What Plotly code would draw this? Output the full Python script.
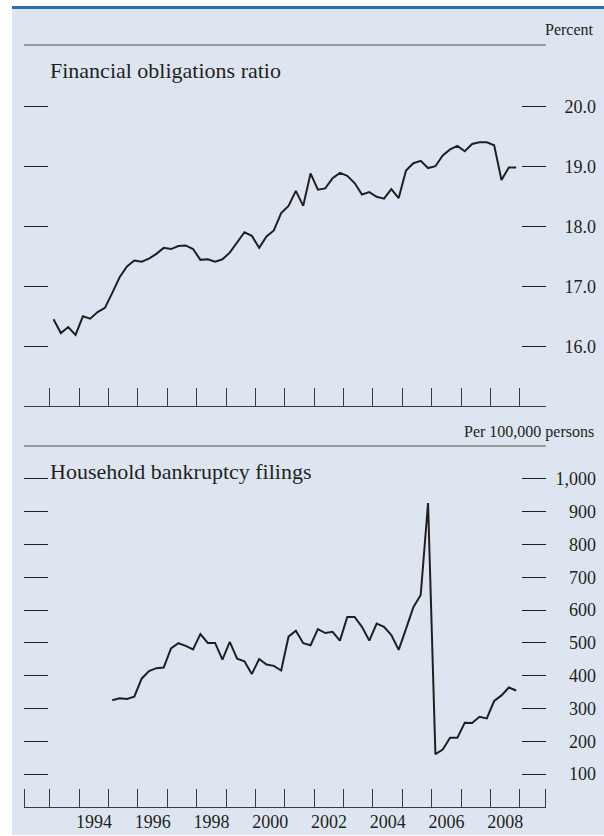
import pandas as pd
import plotly.graph_objects as go

# --- data, quarterly ---
for_quarters = pd.period_range("1993Q1", "2008Q4", freq="Q")
for_ratio = [
    16.45, 16.22, 16.32, 16.19,
    16.50, 16.46, 16.57, 16.64,
    16.89, 17.15, 17.33, 17.43,
    17.41, 17.46, 17.54, 17.64,
    17.62, 17.67, 17.68, 17.62,
    17.44, 17.45, 17.41, 17.45,
    17.56, 17.74, 17.90, 17.84,
    17.64, 17.83, 17.93, 18.22,
    18.34, 18.59, 18.34, 18.88,
    18.61, 18.63, 18.80, 18.89,
    18.84, 18.72, 18.53, 18.57,
    18.49, 18.46, 18.62, 18.47,
    18.93, 19.05, 19.09, 18.97,
    19.00, 19.18, 19.28, 19.34,
    19.25, 19.37, 19.40, 19.40,
    19.35, 18.77, 18.98, 18.98,
]

bk_quarters = pd.period_range("1995Q1", "2008Q4", freq="Q")
bankruptcy = [
    325, 331, 329, 336,
    391, 414, 423, 425,
    483, 499, 491, 480,
    527, 500, 500, 449,
    503, 452, 444, 405,
    451, 434, 430, 416,
    519, 537, 499, 493,
    542, 530, 534, 507,
    579, 579, 549, 507,
    559, 549, 524, 479,
    543, 609, 646, 926,
    161, 175, 211, 211,
    257, 256, 275, 270,
    323, 340, 364, 355,
]

for_ticks = [16, 17, 18, 19, 20]
for_ticktext = ["16.0", "17.0", "18.0", "19.0", "20.0"]
bk_ticks = [100, 200, 300, 400, 500, 600, 700, 800, 900, 1000]
bk_ticktext = ["100", "200", "300", "400", "500", "600", "700", "800", "900", "1,000"]
year_labels = [1994, 1996, 1998, 2000, 2002, 2004, 2006, 2008]


def mid_quarter(periods):
    # plot each quarter at its midpoint in decimal years
    return [p.year + (p.quarter - 0.5) / 4 for p in periods]


W, H = 604, 836
ML = 12
PW = W - ML
BG = "#dde6f0"
INK = "#231f20"
AX = "#3c3c3c"
FONT = "Liberation Serif"

def px_x(px):
    return (px - ML) / PW

def px_y(py):
    return 1 - py / H

XR = [1992.12, 2009.88]
xdom = [px_x(24), px_x(545.7)]
year_edges = [XR[0] + 0.001] + list(range(1993, 2010)) + [XR[1] - 0.001]

fig = go.Figure()
fig.add_trace(go.Scatter(x=mid_quarter(for_quarters), y=for_ratio, mode="lines",
                         line=dict(color=INK, width=2), xaxis="x", yaxis="y",
                         showlegend=False, hoverinfo="skip"))
fig.add_trace(go.Scatter(x=mid_quarter(bk_quarters), y=bankruptcy, mode="lines",
                         line=dict(color=INK, width=2), xaxis="x2", yaxis="y4",
                         showlegend=False, hoverinfo="skip"))
# placeholder traces so the overlaid tick / label axes get drawn
for xa, ya, yr in [("x", "y2", 15.5), ("x", "y3", 15.5), ("x2", "y5", 50), ("x2", "y6", 50)]:
    fig.add_trace(go.Scatter(x=[XR[0]], y=[yr], mode="lines", xaxis=xa, yaxis=ya,
                             showlegend=False, hoverinfo="skip"))

tick_style = dict(ticks="inside", ticklen=24, tickwidth=1.3, tickcolor=INK,
                  showticklabels=False, showline=False, showgrid=False,
                  zeroline=False, fixedrange=True)
label_style = dict(side="left", anchor="free", position=1.0, ticks="",
                   showline=False, showgrid=False, zeroline=False,
                   tickfont=dict(family=FONT, size=18, color=INK),
                   ticklabelstandoff=8)

top_dom = [px_y(406.3), px_y(45)]
bot_dom = [px_y(807), px_y(446)]
for_range = [15, 21.02]
bk_range = [0, 1100]

fig.update_layout(
    width=W, height=H,
    margin=dict(l=ML, r=0, t=0, b=0),
    paper_bgcolor="white",
    plot_bgcolor="rgba(0,0,0,0)",
    xaxis=dict(domain=xdom, range=XR, anchor="y",
               tickmode="array", tickvals=year_edges, ticks="inside",
               ticklen=18, tickwidth=1.3, tickcolor=AX,
               showticklabels=False, showline=True, linecolor=AX,
               linewidth=1.3, showgrid=False, zeroline=False),
    xaxis2=dict(domain=xdom, range=XR, anchor="y4",
                tickmode="array", tickvals=[y + 0.5 for y in year_labels],
                ticktext=[str(y) for y in year_labels], ticks="",
                tickfont=dict(family=FONT, size=18, color=INK),
                ticklabelstandoff=-2,
                minor=dict(tickmode="array", tickvals=year_edges, ticks="inside",
                           ticklen=18, tickwidth=1.3, tickcolor=AX, showgrid=False),
                showline=True, linecolor=AX, linewidth=1.3,
                showgrid=False, zeroline=False),
    yaxis=dict(domain=top_dom, range=for_range, anchor="x",
               tickmode="array", tickvals=for_ticks, **tick_style),
    yaxis2=dict(overlaying="y", side="right", anchor="x", range=for_range,
                tickmode="array", tickvals=for_ticks, **tick_style),
    yaxis3=dict(overlaying="y", range=for_range, tickmode="array",
                tickvals=for_ticks, ticktext=for_ticktext, **label_style),
    yaxis4=dict(domain=bot_dom, range=bk_range, anchor="x2",
                tickmode="array", tickvals=bk_ticks, **tick_style),
    yaxis5=dict(overlaying="y4", side="right", anchor="x2", range=bk_range,
                tickmode="array", tickvals=bk_ticks, **tick_style),
    yaxis6=dict(overlaying="y4", range=bk_range, tickmode="array",
                tickvals=bk_ticks, ticktext=bk_ticktext, **label_style),
)

# background panel, blue rule on top, grey rules above each plot
fig.add_shape(type="rect", xref="paper", yref="paper", x0=0, x1=1,
              y0=px_y(835), y1=px_y(9), fillcolor=BG, line_width=0, layer="below")
fig.add_shape(type="line", xref="paper", yref="paper", x0=0, x1=1,
              y0=px_y(7.5), y1=px_y(7.5), line=dict(color="#2f6db3", width=3))
fig.add_shape(type="line", xref="x domain", yref="y domain", x0=0, x1=1,
              y0=1, y1=1, line=dict(color="#7f7f7f", width=1.5))
fig.add_shape(type="line", xref="x2 domain", yref="y4 domain", x0=0, x1=1,
              y0=1, y1=1, line=dict(color="#7f7f7f", width=1.5))

fig.add_annotation(text="Financial obligations ratio", xref="paper", yref="paper",
                   x=px_x(48), y=px_y(70), xanchor="left", yanchor="middle",
                   showarrow=False, font=dict(family=FONT, size=22, color=INK))
fig.add_annotation(text="Household bankruptcy filings", xref="paper", yref="paper",
                   x=px_x(48), y=px_y(471.5), xanchor="left", yanchor="middle",
                   showarrow=False, font=dict(family=FONT, size=22, color=INK))
fig.add_annotation(text="Percent", xref="paper", yref="paper",
                   x=px_x(596), y=px_y(29.5), xanchor="right", yanchor="middle",
                   showarrow=False, font=dict(family=FONT, size=16, color=INK))
fig.add_annotation(text="Per 100,000 persons", xref="paper", yref="paper",
                   x=px_x(596), y=px_y(432), xanchor="right", yanchor="middle",
                   showarrow=False, font=dict(family=FONT, size=16, color=INK))

# the page's default 8px body margin would shift the figure
fig.write_html("out.html", config={"displayModeBar": False},
               post_script="document.body.style.margin='0';")
